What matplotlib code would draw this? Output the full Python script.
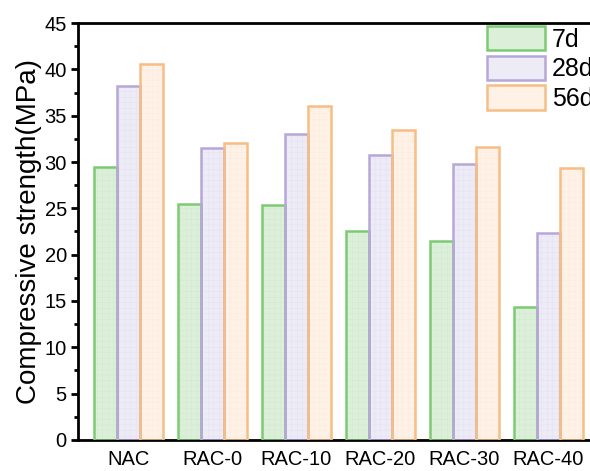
import numpy as np
import matplotlib
matplotlib.use("Agg")
import matplotlib.pyplot as plt
from matplotlib.patches import Patch

plt.rcParams['font.family'] = ['Liberation Sans', 'DejaVu Sans']
plt.rcParams['hatch.linewidth'] = 0.3

# Mix groups and curing ages
groups = ["NAC", "RAC-0", "RAC-10", "RAC-20", "RAC-30", "RAC-40"]
ages = ["7d", "28d", "56d"]

# Compressive strength (MPa) per curing age
strength_7d = [29.5, 25.5, 25.4, 22.5, 21.5, 14.4]
strength_28d = [38.2, 31.5, 33.0, 30.8, 29.8, 22.3]
strength_56d = [40.6, 32.0, 36.0, 33.5, 31.6, 29.4]

edge_colors = ["#7ccb72", "#b8a6d9", "#f7bd85"]
face_colors = ["#dcefd9", "#ecebf6", "#fef2e7"]
hatch_colors = ["#d2e9ce", "#e3e1f1", "#fbeadc"]

fig = plt.figure(figsize=(5.9, 4.71), dpi=100)
ax = fig.add_axes([0.132, 0.066, 0.883, 0.885])

x = np.arange(len(groups))
width = 0.274
series = [strength_7d, strength_28d, strength_56d]

for i, vals in enumerate(series):
    pos = x + (i - 1) * width
    # faint grid pattern inside each bar
    ax.bar(pos, vals, width, facecolor=face_colors[i], edgecolor=hatch_colors[i],
           hatch='+++', linewidth=0, zorder=2)
    ax.bar(pos, vals, width, facecolor='none', edgecolor=edge_colors[i],
           linewidth=1.8, zorder=3)

ax.set_xlim(-0.6, 5.6)
ax.set_ylim(0, 45)
ax.set_xticks(x)
ax.set_xticklabels(groups, fontsize=14.5)
ax.set_yticks(np.arange(0, 46, 5))
ax.set_yticks(np.arange(2.5, 45, 5), minor=True)
ax.tick_params(axis='y', which='major', direction='out', length=5, width=2,
               labelsize=14.5, pad=3)
ax.tick_params(axis='y', which='minor', direction='out', length=3, width=2)
ax.tick_params(axis='x', which='both', length=0, pad=7)
ax.set_ylabel("Compressive strength(MPa)", fontsize=20, labelpad=2)

for side in ['left', 'bottom', 'top']:
    ax.spines[side].set_linewidth(2)
ax.spines['right'].set_visible(False)

handles = [Patch(facecolor=face_colors[i], edgecolor=edge_colors[i], linewidth=1.8,
                 label=ages[i]) for i in range(3)]
leg = fig.legend(handles=handles, loc='upper left', bbox_to_anchor=(0.825, 0.945),
                 frameon=False, fontsize=18, handlelength=2.32, handleheight=1.12,
                 labelspacing=0.16, handletextpad=0.28, borderpad=0, borderaxespad=0)

fig.savefig("out.png", dpi=100)
